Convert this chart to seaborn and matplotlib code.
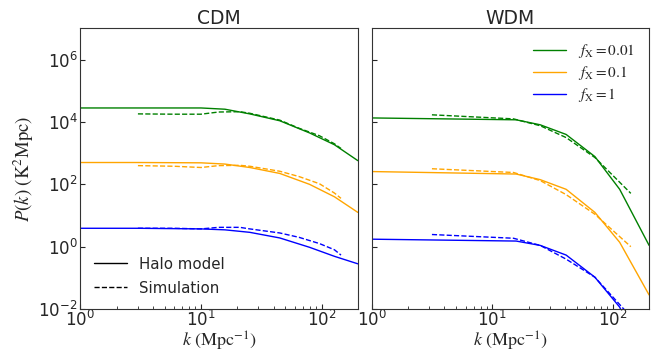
import matplotlib
matplotlib.use("Agg")
import matplotlib.pyplot as plt
import seaborn as sns
import numpy as np
from matplotlib.lines import Line2D

# k values (Mpc^-1) and log10 P(k)
k_cdm_halo = [1, 3, 10, 15.8, 25.4, 45, 79.5, 128, 200]
cdm_halo_001 = [4.45, 4.45, 4.45, 4.41, 4.26, 4.04, 3.65, 3.27, 2.76]
cdm_halo_01 = [2.70, 2.70, 2.69, 2.65, 2.54, 2.35, 2.00, 1.60, 1.10]
cdm_halo_1 = [0.59, 0.59, 0.57, 0.54, 0.46, 0.28, -0.02, -0.31, -0.55]

k_cdm_sim = [3, 6, 10, 14, 21, 25.4, 45, 65, 96, 128, 145]
cdm_sim_001 = [4.26, 4.25, 4.25, 4.32, 4.33, 4.28, 4.06, 3.80, 3.56, 3.30, 3.15]
cdm_sim_01 = [2.60, 2.58, 2.54, 2.60, 2.61, 2.58, 2.42, 2.25, 2.02, 1.72, 1.55]
cdm_sim_1 = [0.59, 0.59, 0.57, 0.62, 0.62, 0.57, 0.44, 0.30, 0.10, -0.10, -0.27]

k_wdm_halo = [1, 15.8, 25, 41, 71, 114, 200]
wdm_halo_001 = [4.13, 4.07, 3.91, 3.60, 2.89, 1.84, 0.04]
wdm_halo_01 = [2.41, 2.33, 2.15, 1.84, 1.10, 0.14, -1.55]
wdm_halo_1 = [0.24, 0.18, 0.04, -0.27, -0.98, -1.94, -4.0]

k_wdm_sim = [3.16, 15, 25, 41, 71, 141]
wdm_sim_001 = [4.23, 4.10, 3.88, 3.50, 2.86, 1.71]
wdm_sim_01 = [2.50, 2.38, 2.12, 1.67, 1.04, 0.00]
wdm_sim_1 = [0.39, 0.27, 0.04, -0.40, -0.98, -2.25]

fx_labels = [r"$f_{\rm X} = 0.01$", r"$f_{\rm X} = 0.1$", r"$f_{\rm X} = 1$"]
colors = ["green", "orange", "blue"]

sns.set_style("ticks")
plt.rcParams["mathtext.fontset"] = "stix"
plt.rcParams["font.family"] = ["DejaVu Sans"]

fig, axes = plt.subplots(1, 2, figsize=(6.59, 3.56), dpi=100, sharey=True)
fig.subplots_adjust(left=0.122, right=0.985, bottom=0.132, top=0.92, wspace=0.05)

panels = [
    ("CDM", k_cdm_halo, [cdm_halo_001, cdm_halo_01, cdm_halo_1],
     k_cdm_sim, [cdm_sim_001, cdm_sim_01, cdm_sim_1]),
    ("WDM", k_wdm_halo, [wdm_halo_001, wdm_halo_01, wdm_halo_1],
     k_wdm_sim, [wdm_sim_001, wdm_sim_01, wdm_sim_1]),
]

for ax, (title, kh, halos, ks, sims) in zip(axes, panels):
    for c, h, s in zip(colors, halos, sims):
        sns.lineplot(x=kh, y=10 ** np.array(h), ax=ax, color=c, lw=1.0)
        sns.lineplot(x=ks, y=10 ** np.array(s), ax=ax, color=c, lw=1.0, linestyle="--")
    ax.set_xscale("log")
    ax.set_yscale("log")
    ax.set_xlim(1, 200)
    ax.set_ylim(1e-2, 1e7)
    ax.set_yticks([1e-2, 1e0, 1e2, 1e4, 1e6])
    ax.set_title(title, fontsize=13.5, pad=3)
    ax.set_xlabel(r"$k\ ({\rm Mpc^{-1}})$", fontsize=13, labelpad=0)
    ax.tick_params(direction="in", which="both", labelsize=12)
    ax.tick_params(axis="x", which="both", pad=0.5)
    ax.tick_params(axis="y", which="both", pad=2)
    ax.tick_params(axis="y", which="minor", left=False)
    for sp in ax.spines.values():
        sp.set_color("#333333")

axes[0].set_ylabel(r"$P(k)\ ({\rm K^2 Mpc})$", fontsize=13.5, labelpad=2)

style_handles = [Line2D([], [], color="black", lw=1.0),
                 Line2D([], [], color="black", lw=1.0, linestyle="--")]
axes[0].legend(style_handles, ["Halo model", "Simulation"], loc="lower left",
               frameon=False, fontsize=10.8, labelspacing=0.6, handlelength=2.2)

fx_handles = [Line2D([], [], color=c, lw=1.0) for c in colors]
axes[1].legend(fx_handles, fx_labels, loc="upper right", frameon=False, fontsize=11,
               labelspacing=0.25, handlelength=2.2)

fig.savefig("out.png", dpi=100)
